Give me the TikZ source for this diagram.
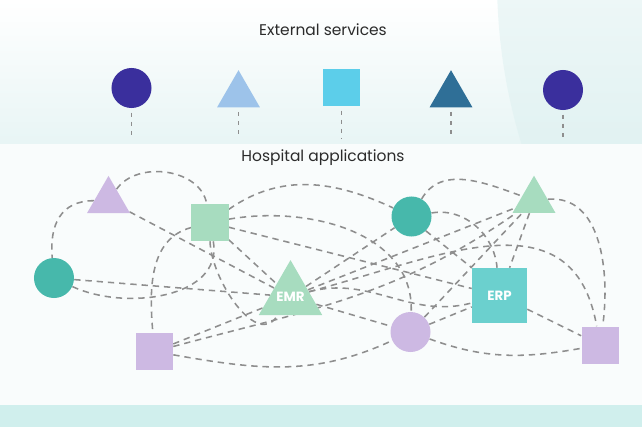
\documentclass[tikz,border=0pt]{standalone}
\usepackage{fontspec}
\setmainfont{Poppins}
\usetikzlibrary{shapes.geometric}
\definecolor{linkgray}{HTML}{8E8E8E}
\definecolor{navy}{HTML}{3A2F9D}
\definecolor{skyblue}{HTML}{9DC3EA}
\definecolor{cyanblue}{HTML}{5CCEEA}
\definecolor{steelblue}{HTML}{2F6F97}
\definecolor{lilac}{HTML}{CDB9E3}
\definecolor{mint}{HTML}{A7DCBF}
\definecolor{teal}{HTML}{47B8AB}
\definecolor{erpteal}{HTML}{6BD0CE}
\definecolor{textgray}{HTML}{2B2B2B}
\definecolor{paper}{HTML}{F9FCFC}
\definecolor{bandlow}{HTML}{E8F5F5}
\definecolor{bandglow}{HTML}{DCF0F0}
\definecolor{footstrip}{HTML}{D0EFED}
\tikzset{link/.style={dashed, dash pattern=on 4.5pt off 3.5pt, line width=1.1pt, draw=linkgray}}
\tikzset{stub/.style={dash pattern=on 3pt off 3.5pt, line width=0.9pt, draw=linkgray, shorten <=3pt}}
\tikzset{circ/.style={circle, fill=#1, inner sep=0pt, minimum size=1cm}}
\tikzset{sqr/.style={rectangle, fill=#1, inner sep=0pt, minimum size=0.925cm}}
\tikzset{tri/.style={regular polygon, regular polygon sides=3, fill=#1, inner sep=0pt, minimum size=1.24cm}}
\tikzset{title/.style={text=textgray, font=\fontsize{11}{13}\selectfont}}
\tikzset{tag/.style={text=white, font=\fontsize{9.5}{11}\selectfont\bfseries}}
\pgfdeclarelayer{bg}
\pgfdeclarelayer{wires}
\pgfsetlayers{bg,wires,main}

\begin{document}
\begin{tikzpicture}[x=0.025cm, y=-0.025cm]
  \useasboundingbox (0,0) rectangle (642,427);
  \begin{pgfonlayer}{bg}
    \fill[paper] (0,0) rectangle (642,427);
    \shade[top color=white, bottom color=bandlow] (0,0) rectangle (642,143);
    \begin{scope}
      \clip (0,0) rectangle (642,143);
      \fill[bandglow, opacity=0.5] (1056,-20) circle (559);
    \end{scope}
    \fill[footstrip] (0,405) rectangle (642,427);
  \end{pgfonlayer}

  % external services
  \node[title] (extTitle) at (323,30) {External services};
  \node[circ=navy] (ext1) at (131.5,88) {};
  \node[tri=skyblue] (ext2) at (238.5,95) {};
  \node[sqr=cyanblue] (ext3) at (341.5,87.5) {};
  \node[tri=steelblue] (ext4) at (451,95) {};
  \node[circ=navy] (ext5) at (563,90) {};
  \coordinate (drop1) at (131.5,138);
  \coordinate (drop2) at (238.5,138);
  \coordinate (drop3) at (341.5,138);
  \coordinate (drop4) at (451,138);
  \coordinate (drop5) at (563,138);
  \foreach \i in {1,...,5}
    \draw[stub] (ext\i) -- (drop\i);

  % hospital applications
  \node[title] (hospTitle) at (323,158) {Hospital applications};
  \node[tri=lilac] (pTri) at (108.5,200.7) {};
  \node[sqr=mint] (gSq) at (210,222.5) {};
  \node[circ=teal] (tCirc) at (54,278) {};
  \node[tri=mint, minimum size=1.83cm, inner sep=-8pt, tag] (emr) at (290.5,296.7) {EMR};
  \node[circ=teal] (tCirc2) at (411.5,216.5) {};
  \node[tri=mint] (gTri) at (534,200.5) {};
  \node[sqr=erpteal, minimum size=1.375cm, tag] (erp) at (499.5,295.5) {ERP};
  \node[circ=lilac] (pCirc) at (410.5,332) {};
  \node[sqr=lilac] (pSqR) at (600,345) {};
  \node[sqr=lilac] (pSqL) at (154.5,351.5) {};

  \begin{pgfonlayer}{wires}
    \draw[link] (pTri) to[out=180, in=95, looseness=1.2] (tCirc);
    \draw[link] (pTri) to[out=55, in=100] (gSq);
    \draw[link] (pTri) -- (emr);
    \draw[link] (tCirc) -- (emr);
    \draw[link] (tCirc) to[out=-25, in=-80] (gSq);
    \draw[link] (gSq) to[out=195, in=95] (pSqL);
    \draw[link] (gSq) to[out=35, in=155] (tCirc2);
    \draw[link] (gSq) to[out=10, in=88] (pCirc);
    \draw[link] (gSq) -- (erp);
    \draw[link] (gSq) -- (emr);
    \draw[link] (gSq.south) to[out=-88, in=-120] (emr.235);
    \draw[link] (pSqL) -- (emr);
    \draw[link] (pSqL) to[out=15, in=215] (gTri);
    \draw[link] (pSqL) to[out=-10, in=205] (pCirc);
    \draw[link] (emr) -- (tCirc2);
    \draw[link] (emr) -- (gTri);
    \draw[link] (emr) -- (pCirc);
    \draw[link] (emr) to[out=15, in=195] (erp);
    \draw[link] (emr) to[out=15, in=100, looseness=1.2] (pSqR);
    \draw[link] (tCirc2) to[out=60, in=160] (gTri);
    \draw[link] (tCirc2) to[out=10, in=95] (erp);
    \draw[link] (tCirc2.south east) -- (erp.north west);
    \draw[link] (gTri) -- (erp);
    \draw[link] (gTri) to[out=5, in=82] (pSqR);
    \draw[link] (erp) -- (pSqR);
    \draw[link] (pCirc) -- (erp);
    \draw[link] (pCirc) -- (gTri);
    \draw[link] (pCirc) to[out=-20, in=190] (pSqR);
  \end{pgfonlayer}
\end{tikzpicture}
\end{document}
